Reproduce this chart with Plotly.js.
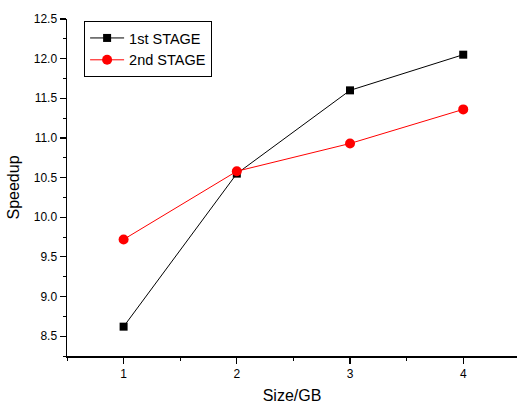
<!DOCTYPE html>
<html><head><meta charset="utf-8">
<script src="https://cdn.plot.ly/plotly-3.0.1.min.js"></script>
<style>html,body{margin:0;padding:0;background:#fff}#chart{width:517px;height:405px}</style>
</head><body><div id="chart"></div>
<script>
const sizes = [1, 2, 3, 4];
const stage1 = [8.62, 10.55, 11.60, 12.05];
const stage2 = [9.72, 10.58, 10.93, 11.36];
const seriesNames = ["1st STAGE", "2nd STAGE"];

const traces = [
  {x: sizes, y: stage1, name: seriesNames[0], type: 'scatter', mode: 'lines+markers',
   line: {color: '#000000', width: 1}, marker: {symbol: 'square', size: 8, color: '#000000'}},
  {x: sizes, y: stage2, name: seriesNames[1], type: 'scatter', mode: 'lines+markers',
   line: {color: '#ff0000', width: 1}, marker: {symbol: 'circle', size: 10, color: '#ff0000'}}
];
const font = {family: 'Liberation Sans, Arial, sans-serif', color: '#000', size: 12};
const layout = {
  width: 517, height: 405,
  margin: {l: 67, r: 0, t: 19, b: 49},
  paper_bgcolor: '#fff', plot_bgcolor: '#fff',
  font: font,
  showlegend: true,
  legend: {x: 0.038, y: 0.994, xanchor: 'left', yanchor: 'top', bordercolor: '#000', borderwidth: 1,
           bgcolor: '#fff', font: {family: font.family, size: 14.5, color: '#000'}, itemwidth: 34,
           tracegroupgap: 0},
  xaxis: {range: [0.5, 4.475], tickvals: sizes, ticktext: sizes.map(String), ticks: 'outside', ticklen: 6,
          tickwidth: 1.2, tickcolor: '#000', showline: true, linecolor: '#000', linewidth: 1.5,
          showgrid: false, zeroline: false, mirror: false,
          minor: {dtick: 0.5, tick0: 0.5, ticks: 'outside', ticklen: 3, tickcolor: '#000', tickwidth: 1},
          title: {text: 'Size/GB', font: {family: font.family, size: 16, color: '#000'}, standoff: 10}},
  yaxis: {range: [8.25, 12.5], dtick: 0.5, tick0: 8.5, tickformat: '.1f', ticks: 'outside', ticklen: 6,
          tickwidth: 1.2, tickcolor: '#000', showline: true, linecolor: '#000', linewidth: 1.5,
          showgrid: false, zeroline: false,
          minor: {dtick: 0.25, tick0: 8.25, ticks: 'outside', ticklen: 3, tickcolor: '#000', tickwidth: 1},
          title: {text: 'Speedup', font: {family: font.family, size: 16, color: '#000'}, standoff: 10}}
};
Plotly.newPlot('chart', traces, layout, {displayModeBar: false, staticPlot: true});
</script></body></html>
